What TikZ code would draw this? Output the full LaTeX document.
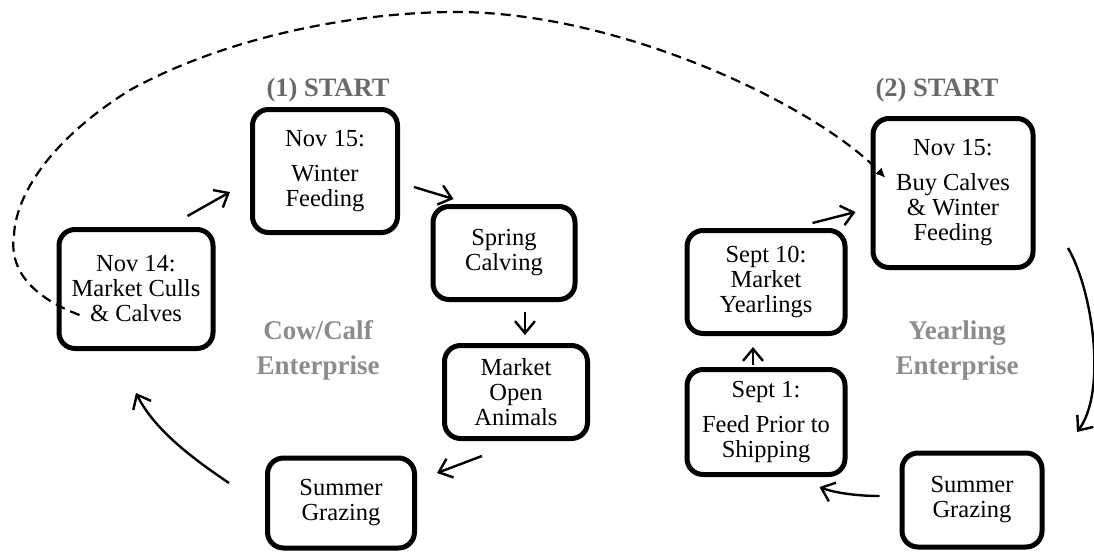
\documentclass[tikz,border=0pt]{standalone}
\usepackage{fontspec}
\setmainfont{Liberation Serif}
\usetikzlibrary{arrows.meta}
\definecolor{startgray}{RGB}{105,105,105}
\definecolor{entgray}{RGB}{140,140,140}
\begin{document}
\begin{tikzpicture}[x=1pt,y=-1pt,
  box/.style={draw, line width=5pt, rounded corners=16pt, align=center, inner sep=0pt,
    font=\fontsize{24.5}{25}\selectfont},
  conn/.style={line width=2.4pt, -{Straight Barb[length=12pt,width=20pt]}},
  dasharrow/.style={line width=2.2pt, dash pattern=on 10pt off 6pt, -{Latex[length=10pt,width=9pt]}},
  startlabel/.style={font=\bfseries\fontsize{26.5}{30}\selectfont, text=startgray},
  entlabel/.style={font=\bfseries\fontsize{27}{35}\selectfont, text=entgray, align=center}
]
\useasboundingbox (0,0) rectangle (1094,552);

% Cow/Calf cycle
\node[box, minimum width=145pt, minimum height=123pt] (winter) at (325,171) {Nov 15:\\[10pt]Winter\\Feeding};
\node[box, minimum width=142pt, minimum height=93pt] (spring) at (504,253) {Spring\\Calving};
\node[box, minimum width=143pt, minimum height=93pt] (market) at (516,392) {Market\\Open\\Animals};
\node[box, minimum width=147pt, minimum height=90pt] (summerL) at (341,503) {Summer\\Grazing};
\node[box, minimum width=154pt, minimum height=119pt] (nov14) at (136,289) {Nov 14:\\Market Culls\\\& Calves};

% Yearling cycle
\node[box, minimum width=160pt, minimum height=149pt] (buy) at (953,193) {Nov 15:\\[10pt]Buy Calves\\\& Winter\\Feeding};
\node[box, minimum width=158pt, minimum height=103pt] (sept10) at (766,282) {Sept 10:\\Market\\Yearlings};
\node[box, minimum width=158pt, minimum height=105pt] (sept1) at (766,422) {Sept 1:\\[10pt]Feed Prior to\\Shipping};
\node[box, minimum width=140pt, minimum height=94pt] (summerR) at (972,500) {Summer\\Grazing};

% labels
\node[startlabel] (start1) at (328,90) {(1) START};
\node[startlabel] (start2) at (937,90) {(2) START};
\node[entlabel] (cow) at (318,350) {Cow/Calf\\Enterprise};
\node[entlabel] (yearling) at (957,350) {Yearling\\Enterprise};

% connectors, cow/calf
\draw[conn] ([shift={(-28,-11)}]nov14.north east) -- ([shift={(-20,21)}]winter.west);
\draw[conn] ([shift={(14,16)}]winter.east) -- ([shift={(23,-5)}]spring.north west);
\draw[conn] ([shift={(21,10)}]spring.south) -- ([shift={(9,-8)}]market.north);
\draw[conn] ([shift={(-34,15)}]market.south) -- ([shift={(20,-30)}]summerL.east);
\draw[conn] ([shift={(-36,-20)}]summerL.west) .. controls (195,460) and (155,431) .. ([shift={(0,42)}]nov14.south);

% connectors, yearling
\draw[conn] ([shift={(32.5,-22)}]buy.south east) .. controls (1093,291) and (1107,392) .. ([shift={(32.5,-18.5)}]summerR.north east);
\draw[conn] ([shift={(-20,-4)}]summerR.west) .. controls (858,496) and (835,493) .. ([shift={(-28,10)}]sept1.south east);
\draw[conn] ([shift={(-13,-2)}]sept1.north) -- ([shift={(-13,11)}]sept10.south);
\draw[conn] ([shift={(-35,-5)}]sept10.north east) -- ([shift={(-15,19)}]buy.west);

% dashed link
\draw[dasharrow] ([shift={(23,26)}]nov14.west) .. controls (40,300) and (8,275) .. (14,235)
  .. controls (16,195) and (50,140) .. (130,90)
  .. controls (230,35) and (360,12) .. (456,12)
  .. controls (620,12) and (815,105) .. ([shift={(15,62)}]buy.north west);
\end{tikzpicture}
\end{document}
